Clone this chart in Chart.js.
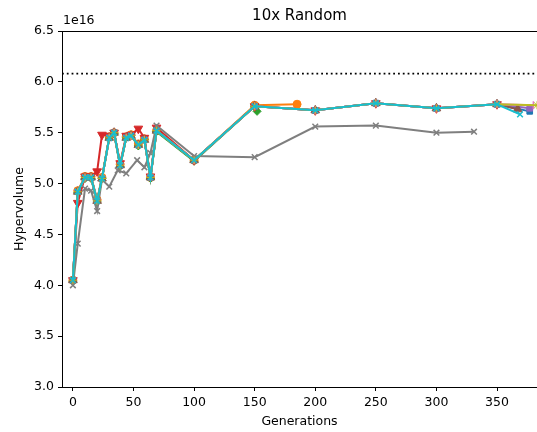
<!DOCTYPE html>
<html>
<head>
<meta charset="utf-8">
<title>10x Random</title>
<script src="https://cdn.jsdelivr.net/npm/chart.js@4.4.1/dist/chart.umd.min.js"></script>
<style>
  html, body { margin: 0; padding: 0; background: #fff; }
  #wrap { width: 537px; height: 432px; }
</style>
</head>
<body>
<div id="wrap"><canvas id="hv-chart" width="537" height="432"></canvas></div>
<script>
// Hypervolume per generation for ten random-seeded runs (values in units of 1e16)
const gensMain = [0, 4, 10, 15, 20, 24, 30, 34, 39, 44, 48, 54, 59, 64, 69, 100, 150, 200, 250, 300, 350];

const gensBlue = [...gensMain, 377];
const hvBlue   = [4.05, 4.92, 5.06, 5.06, 4.83, 5.05, 5.45, 5.50, 5.18, 5.45, 5.47, 5.38, 5.43, 5.06, 5.52, 5.23, 5.76, 5.72, 5.79, 5.74, 5.78, 5.71];

const gensOrange = [0, 4, 10, 15, 20, 24, 30, 34, 39, 44, 48, 54, 59, 64, 69, 100, 150, 185];
const hvOrange   = [4.05, 4.93, 5.07, 5.07, 4.84, 5.06, 5.46, 5.50, 5.19, 5.46, 5.48, 5.39, 5.44, 5.06, 5.52, 5.23, 5.77, 5.78];

const gensGreen = [0, 4, 10, 15, 20, 24, 30, 34, 39, 44, 48, 54, 59, 64, 69, 100, 150, 152];
const hvGreen   = [4.04, 4.91, 5.05, 5.05, 4.82, 5.05, 5.45, 5.49, 5.17, 5.45, 5.47, 5.37, 5.43, 5.05, 5.51, 5.22, 5.76, 5.71];

const gensRed = [...gensMain];
const hvRed   = [4.05, 4.81, 5.07, 5.07, 5.12, 5.48, 5.47, 5.50, 5.20, 5.47, 5.48, 5.54, 5.45, 5.07, 5.55, 5.23, 5.76, 5.72, 5.79, 5.74, 5.78];

const gensPurple = [...gensMain, 377];
const hvPurple   = [4.05, 4.92, 5.06, 5.06, 4.83, 5.05, 5.45, 5.50, 5.18, 5.45, 5.47, 5.38, 5.43, 5.06, 5.52, 5.23, 5.76, 5.72, 5.79, 5.74, 5.78, 5.74];

const gensBrown = [...gensMain, 367];
const hvBrown   = [4.05, 4.92, 5.06, 5.06, 4.83, 5.05, 5.45, 5.50, 5.18, 5.45, 5.47, 5.38, 5.43, 5.06, 5.52, 5.23, 5.76, 5.72, 5.79, 5.74, 5.78, 5.73];

const gensPink = [...gensMain, 380];
const hvPink   = [4.05, 4.92, 5.06, 5.06, 4.83, 5.05, 5.45, 5.50, 5.18, 5.45, 5.47, 5.38, 5.43, 5.06, 5.52, 5.23, 5.76, 5.72, 5.79, 5.74, 5.78, 5.77];

const gensGray = [0, 4, 10, 15, 20, 24, 30, 37, 44, 53, 59, 64, 69, 100, 150, 200, 250, 300, 331];
const hvGray   = [4.00, 4.41, 4.95, 4.93, 4.73, 5.04, 4.97, 5.13, 5.10, 5.23, 5.16, 5.30, 5.57, 5.27, 5.26, 5.56, 5.57, 5.50, 5.51];

const gensOlive = [...gensMain, 383];
const hvOlive   = [4.05, 4.92, 5.06, 5.06, 4.83, 5.05, 5.45, 5.50, 5.18, 5.45, 5.47, 5.38, 5.43, 5.06, 5.52, 5.23, 5.76, 5.72, 5.79, 5.74, 5.78, 5.77];

const gensCyan = [...gensMain, 369];
const hvCyan   = [4.05, 4.92, 5.06, 5.06, 4.83, 5.05, 5.45, 5.50, 5.18, 5.45, 5.47, 5.38, 5.43, 5.06, 5.52, 5.23, 5.76, 5.72, 5.79, 5.74, 5.78, 5.68];

const referenceHv = 6.08;
const xTicks = [0, 50, 100, 150, 200, 250, 300, 350];
const yTicks = [3.0, 3.5, 4.0, 4.5, 5.0, 5.5, 6.0, 6.5];

const runs = [
  { gens: gensBlue,   hv: hvBlue,   color: '#1f77b4', marker: 'rect' },
  { gens: gensOrange, hv: hvOrange, color: '#ff7f0e', marker: 'circle' },
  { gens: gensGreen,  hv: hvGreen,  color: '#2ca02c', marker: 'rectRot' },
  { gens: gensRed,    hv: hvRed,    color: '#d62728', marker: 'triangle', rot: 180 },
  { gens: gensPurple, hv: hvPurple, color: '#9467bd', marker: 'rect' },
  { gens: gensBrown,  hv: hvBrown,  color: '#8c564b', marker: 'triangle' },
  { gens: gensPink,   hv: hvPink,   color: '#e377c2', marker: 'line', rot: 90 },
  { gens: gensGray,   hv: hvGray,   color: '#7f7f7f', marker: 'crossRot' },
  { gens: gensOlive,  hv: hvOlive,  color: '#bcbd22', marker: 'star' },
  { gens: gensCyan,   hv: hvCyan,   color: '#17becf', marker: 'crossRot' },
];

Chart.defaults.font.family = 'DejaVu Sans';
Chart.defaults.color = '#000';

const datasets = runs.map((r, i) => ({
  data: r.gens.map((g, k) => ({ x: g, y: r.hv[k] })),
  borderColor: r.color,
  backgroundColor: r.color,
  borderWidth: 2,
  pointStyle: r.marker,
  pointRotation: r.rot || 0,
  pointRadius: r.marker === 'triangle' ? 5 : 4,
  pointBorderWidth: r.marker === 'crossRot' || r.marker === 'line' ? 1.5 : 1,
  tension: 0,
  order: runs.length - i + 1,   // later runs end up on top
}));

// dotted reference level across the whole axis
datasets.push({
  data: [{ x: -9, y: referenceHv }, { x: 383, y: referenceHv }],
  borderColor: '#000',
  borderWidth: 1.8,
  borderDash: [1.8, 3],
  pointRadius: 0,
  order: 20,
});

// ── Title, exponent label and top spine ──
const framePlugin = {
  id: 'frame',
  afterDraw(chart) {
    const { ctx, chartArea } = chart;
    ctx.save();
    ctx.strokeStyle = '#000';
    ctx.lineWidth = 1;
    ctx.beginPath();
    ctx.moveTo(chartArea.left, chartArea.top + 0.5);
    ctx.lineTo(chartArea.right, chartArea.top + 0.5);
    ctx.stroke();

    ctx.fillStyle = '#000';
    ctx.textBaseline = 'middle';
    ctx.textAlign = 'center';
    ctx.font = '15px "DejaVu Sans"';
    ctx.fillText('10x Random', (chartArea.left + chartArea.right) / 2, 16.5);

    ctx.textAlign = 'left';
    ctx.font = '12.5px "DejaVu Sans"';
    ctx.fillText('1e16', chartArea.left + 1, 20.5);
    ctx.restore();
  }
};

new Chart(document.getElementById('hv-chart'), {
  type: 'line',
  data: { datasets },
  plugins: [framePlugin],
  options: {
    responsive: false,
    animation: false,
    layout: { autoPadding: false, padding: { top: 31, right: 0, left: 0, bottom: 0 } },
    plugins: {
      legend: { display: false },
      tooltip: { enabled: false },
    },
    scales: {
      x: {
        type: 'linear',
        min: -9,
        max: 383,
        afterBuildTicks: s => { s.ticks = xTicks.map(v => ({ value: v })); },
        afterFit: s => { s.height = 45; s.paddingLeft = 0; s.paddingRight = 0; },
        grid: { drawOnChartArea: false, drawTicks: true, tickLength: 4, color: '#000' },
        border: { display: true, color: '#000', width: 1 },
        ticks: { font: { size: 12.5 }, padding: 4, maxRotation: 0, color: '#000' },
        title: { display: true, text: 'Generations', font: { size: 12.5 }, padding: { top: 0, bottom: 2.5 }, color: '#000' },
      },
      y: {
        min: 3,
        max: 6.5,
        afterBuildTicks: s => { s.ticks = yTicks.map(v => ({ value: v })); },
        afterFit: s => { s.width = 62; s.paddingTop = 0; s.paddingBottom = 0; },
        grid: { drawOnChartArea: false, drawTicks: true, tickLength: 4, color: '#000' },
        border: { display: true, color: '#000', width: 1 },
        ticks: { font: { size: 12.5 }, padding: 4, color: '#000', callback: v => v.toFixed(1) },
        title: { display: true, text: 'Hypervolume', font: { size: 12.5 }, padding: { top: 12, bottom: 0 }, color: '#000' },
      }
    }
  }
});
</script>
</body>
</html>
